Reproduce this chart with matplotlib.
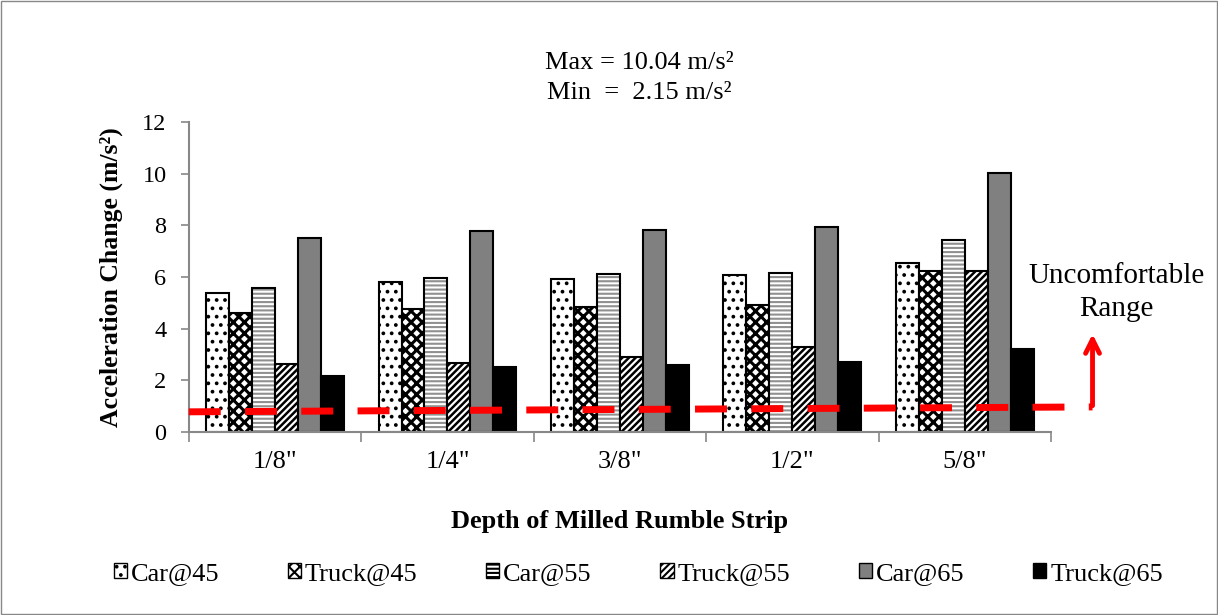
import matplotlib.pyplot as plt
import numpy as np
from matplotlib.patches import Patch, Rectangle

plt.rcParams['font.family'] = ['Liberation Serif', 'DejaVu Serif']
plt.rcParams['hatch.linewidth'] = 1.5

depths = ['1/8"', '1/4"', '3/8"', '1/2"', '5/8"']
series = ['Car@45', 'Truck@45', 'Car@55', 'Truck@55', 'Car@65', 'Truck@65']
car45 = [5.39, 5.82, 5.94, 6.09, 6.54]
truck45 = [4.59, 4.76, 4.85, 4.93, 6.23]
car55 = [5.59, 5.95, 6.10, 6.14, 7.43]
truck55 = [2.63, 2.66, 2.90, 3.30, 6.24]
car65 = [7.50, 7.78, 7.82, 7.92, 10.04]
truck65 = [2.15, 2.53, 2.58, 2.72, 3.20]
values = [car45, truck45, car55, truck55, car65, truck65]

# threshold line (uncomfortable range), start/end values
thr_x = [-0.5, 4.74]
thr_y = [0.78, 0.97]

faces = ['white', 'white', 'white', 'white', '#808080', 'black']
hatches = ['..', 'xxx', '----', '/////', None, None]
hatch_cols = ['black', 'black', '#909090', 'black', 'black', 'black']
hatch_lw = [1.5, 2.2, 1.5, 1.8, 1.5, 1.5]

fig = plt.figure(figsize=(12.18, 6.15), dpi=100)
ax = fig.add_axes([0.155, 0.2976, 0.708, 0.504])

x = np.arange(len(depths))
w = 0.8 / 6
for i, vals in enumerate(values):
    pos = x - 0.4 + w * (i + 0.5)
    with plt.rc_context({'hatch.linewidth': hatch_lw[i]}):
        ax.bar(pos, vals, w, color=faces[i], hatch=hatches[i], edgecolor=hatch_cols[i], linewidth=0)
    ax.bar(pos, vals, w, fill=False, edgecolor='black', linewidth=1.5)

ax.plot(thr_x, thr_y, color='red', lw=5, dashes=(4.6, 3.5), clip_on=False, zorder=5)
ax.annotate('', xy=(thr_x[1], 3.9), xytext=(thr_x[1], thr_y[1] - 0.06),
            arrowprops=dict(arrowstyle='->', color='red', lw=3.5, mutation_scale=25),
            annotation_clip=False)
ax.text(4.88, 5.4, 'Uncomfortable\nRange', ha='center', va='center', fontsize=21,
        linespacing=1.35)

ax.set_xlim(-0.5, 4.5)
ax.set_ylim(0, 12)
ax.set_yticks(range(0, 13, 2))
ax.set_xticks(x)
ax.set_xticklabels(depths)
ax.set_xticks(np.arange(-0.5, 5, 1), minor=True)
ax.tick_params(axis='x', which='major', length=0, pad=14, labelsize=19)
ax.tick_params(axis='x', which='minor', length=7, color='#888888', width=1.2)
ax.tick_params(axis='y', length=6, color='#888888', width=1.2, labelsize=17.5, pad=10)
for s in ['top', 'right']:
    ax.spines[s].set_visible(False)
for s in ['left', 'bottom']:
    ax.spines[s].set_color('#888888')
    ax.spines[s].set_linewidth(1.5)

ax.set_ylabel('Acceleration Change (m/s²)', fontsize=18.5, fontweight='bold', labelpad=14)
ax.set_xlabel('Depth of Milled Rumble Strip', fontsize=19, fontweight='bold', labelpad=26)

fig.text(0.525, 0.897, 'Max = 10.04 m/s²', ha='center', va='center', fontsize=19)
fig.text(0.525, 0.848, 'Min  =  2.15 m/s²', ha='center', va='center', fontsize=19)

handles = [Patch(facecolor=faces[i], hatch=hatches[i], edgecolor='black', linewidth=1)
           for i in range(6)]
fig.legend(handles, series, loc='center', bbox_to_anchor=(0.524, 0.067), ncol=6,
           frameon=False, fontsize=19, handlelength=0.5, handleheight=0.5,
           handletextpad=0.15, columnspacing=2.6)

fig.patches.append(Rectangle((0.001, 0.001), 0.998, 0.997, transform=fig.transFigure,
                             fill=False, edgecolor='#888888', linewidth=1))

fig.savefig('out.png', dpi=100)
